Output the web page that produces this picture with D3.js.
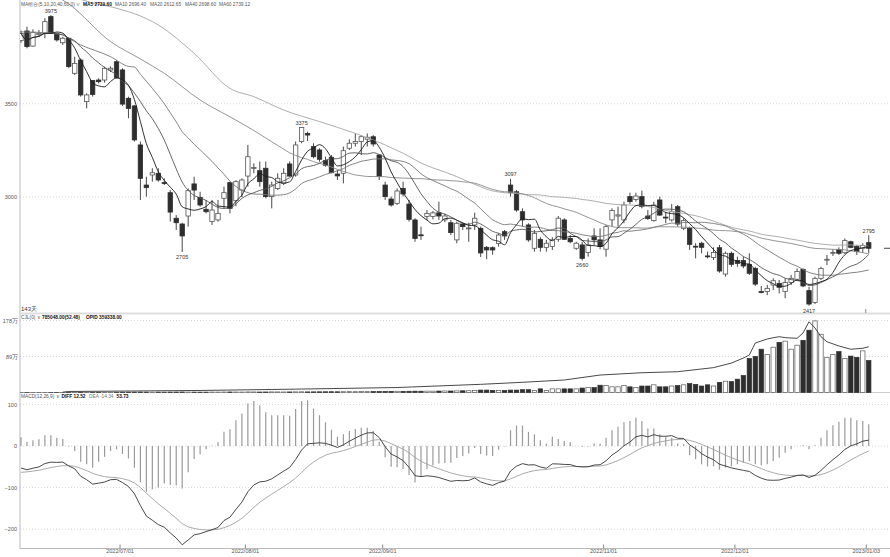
<!DOCTYPE html>
<html><head><meta charset="utf-8">
<script src="https://cdn.jsdelivr.net/npm/d3@7"></script>
<style>body{margin:0;background:#fff}svg{display:block}text{font-family:"Liberation Sans",Arial,sans-serif}</style>
</head><body><svg id="c" width="890" height="557"></svg>
<script>
// ---------- data ----------
const opens=[3838,3890,3809,3870,3877,3967,3877,3827,3851,3663,3734,3511,3624,3627,3627,3681,3725,3681,3529,3488,
3279,3064,3118,3127,3077,3023,2886,2855,2898,3070,2998,2934,2868,2877,2993,3077,2980,3037,3112,3154,
3141,3154,3002,3046,3073,3177,3118,3297,3341,3270,3252,3195,3213,3123,3127,3261,3288,3297,3310,3323,
3225,3064,2989,2966,3046,2962,2877,2797,2896,2895,2915,2877,2862,2770,2855,2832,2850,2832,2730,2728,
2751,2814,3064,3028,2921,2850,2725,2773,2730,2734,2773,2877,2778,2725,2743,2702,2791,2770,2720,2877,
2898,2877,3002,2987,3002,2898,2873,2984,2892,2877,2948,2832,2832,2736,2752,2684,2676,2728,2587,2698,
2659,2659,2639,2617,2493,2493,2528,2537,2493,2541,2559,2612,2498,2434,2564,2664,2701,2719,2701,2760,
2734,2725,2755];
const highs=[3892,3913,3899,3895,3958,3975,3881,3859,3854,3752,3743,3556,3627,3636,3699,3700,3734,3690,3538,3493,
3297,3109,3154,3154,3100,3037,2903,2862,3046,3109,3028,2984,2984,2984,3055,3082,3090,3100,3279,3180,
3190,3190,3082,3127,3154,3190,3297,3375,3350,3288,3261,3216,3225,3145,3270,3309,3341,3332,3341,3332,
3230,3082,3002,3046,3082,2984,2886,2841,2930,2925,2975,2910,2877,2868,2862,2862,2916,2841,2737,2735,
2805,2823,3097,3037,2939,2859,2823,2784,2770,2784,2898,2886,2796,2760,2760,2778,2832,2832,2850,2939,
2948,2975,3023,3023,3034,2930,2975,3002,2921,2962,2957,2886,2841,2752,2760,2707,2730,2743,2707,2707,
2680,2680,2698,2626,2523,2528,2564,2555,2564,2582,2617,2617,2519,2573,2626,2689,2719,2730,2778,2766,
2743,2752,2795];
const lows=[3827,3797,3806,3859,3851,3877,3833,3815,3690,3654,3538,3475,3538,3609,3613,3670,3636,3488,3422,3297,
2984,3002,3082,3082,3064,2868,2823,2705,2841,2984,2948,2912,2850,2868,2939,2912,2950,3000,3055,3127,
3055,2993,2939,3037,3064,3109,3109,3288,3300,3207,3189,3162,3127,3091,3073,3252,3270,3225,3270,3270,
3091,2984,2948,2957,3002,2868,2760,2770,2877,2880,2877,2865,2796,2752,2823,2760,2823,2678,2666,2690,
2734,2770,3002,2921,2841,2760,2707,2707,2707,2716,2760,2770,2752,2716,2660,2680,2743,2720,2680,2841,
2841,2859,2962,2975,2939,2877,2868,2898,2859,2868,2841,2823,2716,2671,2698,2671,2662,2594,2573,2626,
2626,2618,2582,2523,2483,2474,2501,2483,2457,2528,2555,2516,2417,2426,2555,2635,2684,2689,2694,2725,
2689,2701,2698];
const closes=[3877,3806,3883,3877,3940,3881,3842,3851,3699,3716,3547,3547,3550,3618,3690,3690,3641,3498,3475,3306,
3100,3050,3130,3091,3074,2919,2862,2791,3034,3037,2957,2921,2930,2912,3023,2939,3082,3091,3216,3158,
3082,3002,3064,3100,3127,3112,3279,3373,3332,3216,3202,3170,3130,3113,3248,3288,3297,3323,3320,3284,
3109,3002,2957,3032,3016,2880,2778,2795,2912,2915,2898,2898,2809,2859,2841,2834,2886,2700,2716,2716,
2796,2791,3023,2930,2877,2770,2805,2730,2752,2770,2886,2773,2760,2752,2671,2743,2770,2734,2841,2927,
2904,2957,2975,3005,2948,2884,2957,2903,2890,2921,2855,2873,2746,2733,2730,2682,2702,2603,2698,2639,
2644,2630,2591,2533,2491,2510,2551,2516,2541,2564,2600,2523,2426,2564,2617,2666,2703,2698,2766,2730,
2707,2740,2725];
// volume in 万 (10k)
const volumes=[0.2,0.2,0.3,0.2,0.3,0.3,0.2,0.3,
0.6,0.7,0.8,0.7,0.6,0.7,0.8,0.8,0.7,0.9,1.0,1.1,1.2,1.0,0.9,1.0,0.9,1.1,1.2,1.3,1.1,1.0,1.0,
1.0,1.1,1.0,1.2,1.3,1.2,1.1,1.4,1.3,1.2,1.3,1.5,1.4,1.3,1.4,1.6,1.7,1.5,1.6,1.7,
1.8,1.9,1.8,2.0,2.1,2.0,2.2,2.1,2.3,2.5,2.7,2.8,3.0,2.9,3.1,3.3,3.2,3.4,3.3,3.6,3.8,3.7,4.0,4.2,4.4,4.6,
6,6,5,5,5,6,6,7,7,5,9,5,9,9,9,9,9,11,12,12,18,17,14,14,17,14,12,16,16,19,14,14,16,17,19,22,20,16,19,16,
25,28,27,33,42,84,89,107,94,112,124,127,107,117,129,154,177,144,87,94,101,84,90,87,103,79];
// open interest (万), [candle index, value]
const opidIdx=[7,8,30,47,63,77,84,91,97,104,110,116,119,121,122,123,125,127,128,130,131,132,133,134,135,137,139,141,142];
const opidVal=[0.3,0.8,1.6,2.7,3.9,6.4,8.0,9.8,13.7,15.5,16.3,19.5,23.1,27,29.4,38.8,42,43.8,43,42.5,46.7,55.5,50.6,43.8,39.8,36.5,33.9,34.7,35.9];
// MACD histogram (2*(DIFF-DEA))
const macdHist=[21,10,14,16,26,26,20,17,
-1,-12,-38,-44,-52,-38,-26,-12,-8,-19,-30,-52,-87,-110,-104,-100,-90,-94,-95,-102,-63,-31,-20,-8,
1,9,34,40,62,78,102,108,98,81,74,74,74,73,89,108,110,90,74,57,39,22,28,36,41,44,44,36,10,
-27,-50,-51,-55,-70,-88,-74,-56,-47,-42,-41,-40,-29,-24,-18,-5,-19,-23,-24,-9,-1,
38,49,49,34,28,14,6,22,17,12,9,0,-2,-1,6,6,20,38,46,57,60,68,60,42,42,28,22,20,6,4,
-22,-32,-44,-49,-49,-57,-52,-49,-44,-40,-36,-44,-46,-44,-36,-28,-16,-8,0,2,-8,2,
20,38,50,58,68,68,62,60,52];
const deaStart=-66; // DEA just before the first candle
// moving-average values before each window is full, [index, value]
const ma20Head=[[0,3885],[6,3877],[10,3815],[15,3752],[18,3700]];
const ma40Head=[[0,4200],[4,4110],[8,4035],[15,3833],[20,3740],[24,3663],[30,3520],[36,3412]];
const ma60Head=[[0,4150],[8,4080],[12,4040],[15,4020],[23,3922],[29,3770],[35,3582],[39,3538],[44,3466],[50,3404],[56,3341]];
const dateLabels=['2022/07/01','2022/08/01','2022/09/01','2022/11/01','2022/12/01','2023/01/03'];
const dateIdx=[16,37,60,97,119,141];
const priceTicks=[3000,3500];
const volTicks=[89,178];
const macdTicks=[100,0,-100,-200];
const markIdx=[5,27,47,82,94,132,142];
const markType=['high','low','high','high','low','low','high'];

// ---------- drawing ----------
const N=closes.length;
const svg=d3.select('#c');
const x=d3.scaleLinear().domain([0,142]).range([21,868.74]);
const yP=d3.scaleLinear().domain([2378,4056]).range([313,0]);
const yV=d3.scaleLinear().domain([0,178]).range([392.5,320.5]);
const yO=d3.scaleLinear().domain([0,56]).range([392.5,321.1]);
const yM=d3.scaleLinear().domain([-200,100]).range([529.2,404.4]);

const defs=svg.append('defs');
[['cm',0,313],['cv',315,78],['cmacd',393,155]].forEach(([id,y,h])=>{
  defs.append('clipPath').attr('id',id).append('rect').attr('x',20).attr('y',y).attr('width',870).attr('height',h);
});

// grid lines
const grid=svg.append('g').attr('stroke','#d6d6d6').attr('stroke-dasharray','1,2');
priceTicks.forEach(v=>grid.append('line').attr('x1',20).attr('x2',890).attr('y1',yP(v)).attr('y2',yP(v)));
volTicks.forEach(v=>grid.append('line').attr('x1',20).attr('x2',890).attr('y1',yV(v)).attr('y2',yV(v)));
macdTicks.forEach(v=>grid.append('line').attr('x1',20).attr('x2',890).attr('y1',yM(v)).attr('y2',yM(v)));

// frame
svg.append('line').attr('x1',20).attr('x2',20).attr('y1',0).attr('y2',549).attr('stroke','#bbb');
svg.append('rect').attr('x',20).attr('y',312.5).attr('width',870).attr('height',2).attr('fill','#ddd');
svg.append('line').attr('x1',20).attr('x2',890).attr('y1',392.5).attr('y2',392.5).attr('stroke','#ccc');
svg.append('line').attr('x1',20).attr('x2',890).attr('y1',548.5).attr('y2',548.5).attr('stroke','#bbb');

// axes
function styleAxis(g){g.select('.domain').remove();g.selectAll('text').attr('fill','#555').style('font-size','5.5px');}
svg.append('g').attr('transform','translate(20,0)').call(d3.axisLeft(yP).tickValues(priceTicks).tickSize(0).tickPadding(3).tickFormat(d3.format('d'))).call(styleAxis);
svg.append('g').attr('transform','translate(20,0)').call(d3.axisLeft(yV).tickValues(volTicks).tickSize(0).tickPadding(2).tickFormat(d=>d+'万')).call(styleAxis);
svg.append('g').attr('transform','translate(20,0)').call(d3.axisLeft(yM).tickValues(macdTicks).tickSize(0).tickPadding(3).tickFormat(d3.format('d'))).call(styleAxis);
const xT=x.copy().range([24,871.74]);
const xa=svg.append('g').attr('transform','translate(0,548.5)')
  .call(d3.axisBottom(xT).tickValues(dateIdx).tickSize(-4).tickPadding(1).tickFormat((d,k)=>dateLabels[k]));
xa.select('.domain').remove();
xa.selectAll('line').attr('stroke','#888');
xa.selectAll('text').attr('fill','#555').style('font-size','5.5px');
// current-day marker at bottom of price panel
svg.append('line').attr('x1',xT(141)).attr('x2',xT(141)).attr('y1',309).attr('y2',313).attr('stroke','#888');

// candles
const main=svg.append('g').attr('clip-path','url(#cm)');
const bw=4.4;
const idx=d3.range(N);
main.selectAll('line.w').data(idx).join('line')
  .attr('x1',i=>x(i)).attr('x2',i=>x(i)).attr('y1',i=>yP(highs[i])).attr('y2',i=>yP(lows[i]))
  .attr('stroke','#333').attr('stroke-width',0.9);
main.selectAll('rect.b').data(idx).join('rect')
  .attr('x',i=>x(i)-bw/2).attr('width',bw)
  .attr('y',i=>yP(Math.max(opens[i],closes[i])))
  .attr('height',i=>Math.max(0.9,Math.abs(yP(opens[i])-yP(closes[i]))))
  .attr('fill',i=>closes[i]>=opens[i]?'#fff':'#2e2e2e')
  .attr('stroke',i=>closes[i]>=opens[i]?'#555':'#2e2e2e').attr('stroke-width',0.8);

// moving averages
function maPartial(n){return idx.map(i=>[i,d3.mean(closes.slice(Math.max(0,i-n+1),i+1))]);}
function maWithHead(n,head){const p=head.slice();for(let i=n-1;i<N;i++)p.push([i,d3.mean(closes.slice(i-n+1,i+1))]);return p;}
const maLine=d3.line().x(d=>x(d[0])).y(d=>yP(d[1])).curve(d3.curveMonotoneX);
[[maWithHead(60,ma60Head),'#a5a5a5'],[maWithHead(40,ma40Head),'#8a8a8a'],[maWithHead(20,ma20Head),'#777'],
 [maPartial(10),'#555'],[maPartial(5),'#1a1a1a']].forEach(([pts,c])=>{
  main.append('path').attr('d',maLine(pts)).attr('fill','none').attr('stroke',c).attr('stroke-width',0.9);
});

// high / low marks
markIdx.forEach((i,k)=>{
  const hi=markType[k]==='high';
  main.append('text').attr('x',x(i)).attr('y',hi?yP(highs[i])-2.5:yP(lows[i])+7)
    .attr('text-anchor','middle').attr('fill','#333').style('font-size','5.5px')
    .text(hi?highs[i]:lows[i]);
});
// last price dash on right
svg.append('line').attr('x1',884).attr('x2',890).attr('y1',yP(closes[N-1])).attr('y2',yP(closes[N-1])).attr('stroke','#444');

// volume
const vg=svg.append('g').attr('clip-path','url(#cv)');
vg.selectAll('rect').data(idx).join('rect')
  .attr('x',i=>x(i)-bw/2).attr('width',bw)
  .attr('y',i=>yV(volumes[i])).attr('height',i=>yV(0)-yV(volumes[i]))
  .attr('fill',i=>closes[i]>=opens[i]?'#fff':'#2e2e2e')
  .attr('stroke',i=>closes[i]>=opens[i]?'#555':'#2e2e2e').attr('stroke-width',0.7);
vg.append('path').attr('d',d3.line().x((d,k)=>x(opidIdx[k])).y(d=>yO(d))(opidVal))
  .attr('fill','none').attr('stroke','#333').attr('stroke-width',0.9);

// MACD
let dea=deaStart; const deaArr=[],diffArr=[];
macdHist.forEach(h=>{dea+=h/8;deaArr.push(dea);diffArr.push(dea+h/2);});
const mg=svg.append('g').attr('clip-path','url(#cmacd)');
mg.selectAll('line').data(idx).join('line')
  .attr('x1',i=>x(i)).attr('x2',i=>x(i)).attr('y1',yM(0)).attr('y2',i=>yM(macdHist[i]))
  .attr('stroke','#9a9a9a').attr('stroke-width',1.2);
const mLine=d3.line().x((d,i)=>x(i)).y(d=>yM(d));
mg.append('path').attr('d',mLine(deaArr)).attr('fill','none').attr('stroke','#a0a0a0').attr('stroke-width',0.9);
mg.append('path').attr('d',mLine(diffArr)).attr('fill','none').attr('stroke','#333').attr('stroke-width',0.9);

// header texts
function t(xp,yp,s,opt={}){svg.append('text').attr('x',xp).attr('y',yp).text(s)
  .attr('fill',opt.c||'#555').style('font-size',(opt.fs||4.8)+'px').style('font-weight',opt.b?'bold':'normal');}
t(21,6,'MA组合(5,10,20,40,60,0) ∨');
t(83,6,'MA5 2739.60',{c:'#111',b:1});
t(115,6,'MA10 2696.40');t(150,6,'MA20 2612.65');t(185,6,'MA40 2698.60');t(219,6,'MA60 2739.12');
t(21,311,N+'天',{c:'#333',fs:6});
t(21,319,'CJL(0) ∨');
t(42,319,'785048.00(52.48)',{c:'#111',b:1});
t(86,319,'OPID 359338.00',{c:'#111',b:1});
t(21,397.5,'MACD(12,26,9) ∨');
t(61.5,397.5,'DIFF 12.52',{c:'#111',b:1});
t(89,397.5,'DEA -14.34',{c:'#777'});
t(116.5,397.5,'53.73',{c:'#111',b:1});
</script></body></html>
